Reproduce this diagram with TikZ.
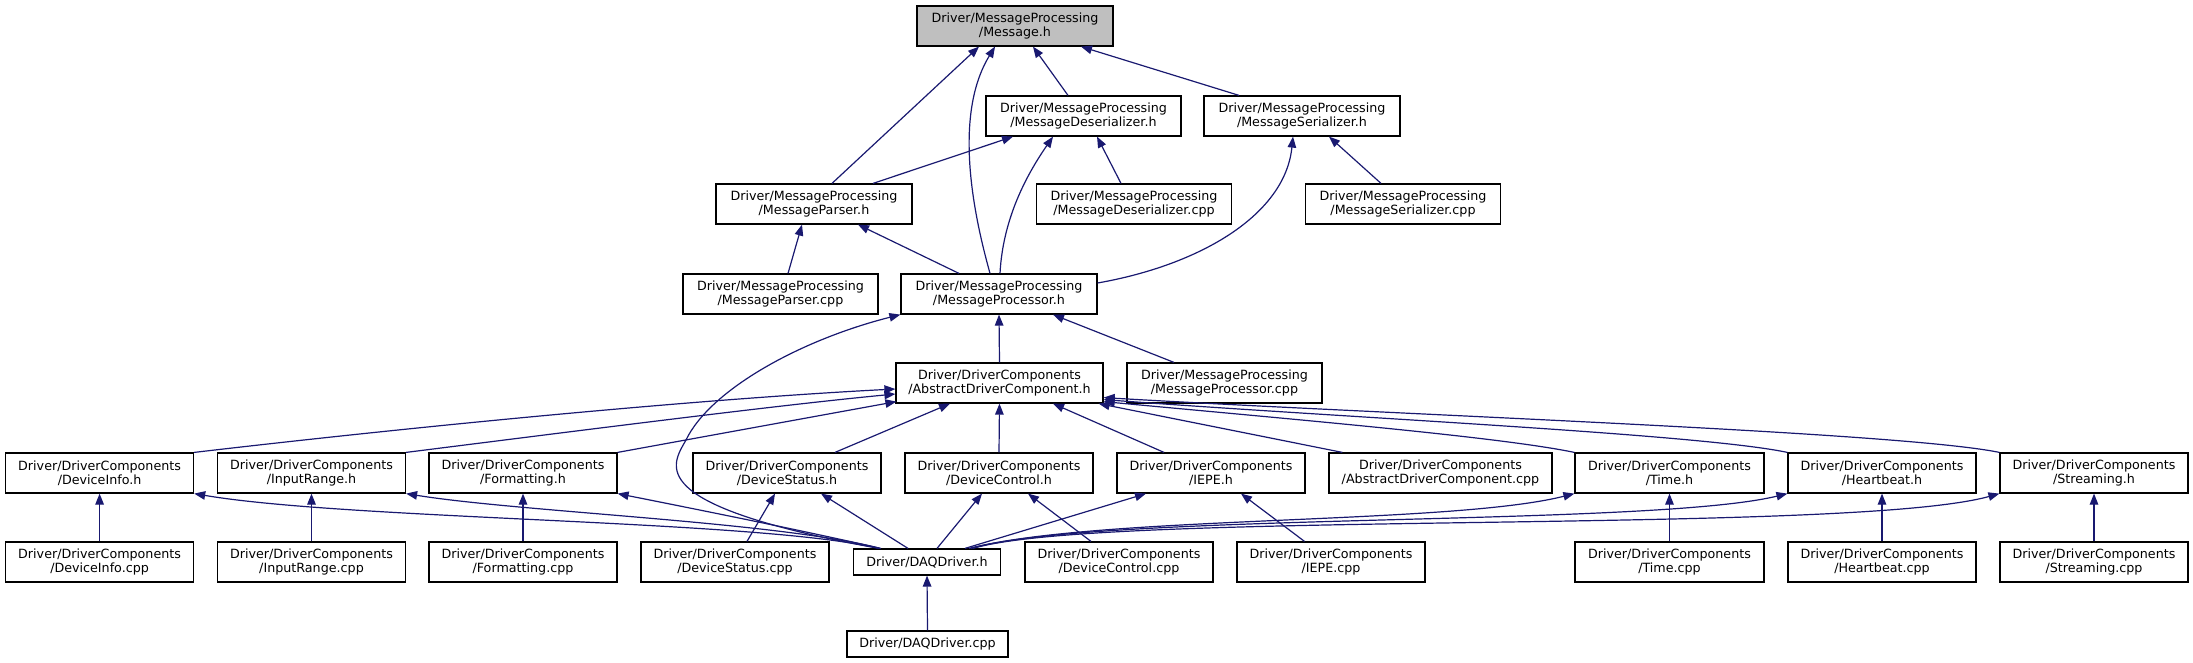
\documentclass[tikz,border=0pt]{standalone}
\usepackage{fontspec}
\setmainfont{DejaVu Sans}
\usetikzlibrary{arrows.meta}
\definecolor{edgeblue}{HTML}{191970}
\definecolor{rootgray}{HTML}{BFBFBF}
\begin{document}
\begin{tikzpicture}[x=1pt,y=-1pt,
  box/.style={draw=black,line width=1.2pt,fill=white,inner sep=0pt,minimum height=40pt,align=center,font=\fontsize{12.7}{14.2}\selectfont},
  onebox/.style={box,minimum height=26pt},
  edge/.style={draw=edgeblue,line width=1.2pt,-{Triangle[length=11pt,width=8.5pt]}}]
\path[use as bounding box] (0,0) rectangle (2193,663);
% row 1
\node[box,fill=rootgray,minimum width=196pt] (msg) at (1015,26) {Driver/MessageProcessing\\/Message.h};
% row 2
\node[box,minimum width=195pt] (deser) at (1083.5,116) {Driver/MessageProcessing\\/MessageDeserializer.h};
\node[box,minimum width=196pt] (ser) at (1302,116) {Driver/MessageProcessing\\/MessageSerializer.h};
% row 3
\node[box,minimum width=196pt] (parser) at (814,204) {Driver/MessageProcessing\\/MessageParser.h};
\node[box,minimum width=195pt] (desercpp) at (1134,204) {Driver/MessageProcessing\\/MessageDeserializer.cpp};
\node[box,minimum width=195pt] (sercpp) at (1403,204) {Driver/MessageProcessing\\/MessageSerializer.cpp};
% row 4
\node[box,minimum width=195pt] (parsercpp) at (780.5,294) {Driver/MessageProcessing\\/MessageParser.cpp};
\node[box,minimum width=196pt] (proc) at (999,294) {Driver/MessageProcessing\\/MessageProcessor.h};
% row 5
\node[box,minimum width=207pt] (abs) at (999.5,383) {Driver/DriverComponents\\/AbstractDriverComponent.h};
\node[box,minimum width=195pt] (proccpp) at (1224.5,383) {Driver/MessageProcessing\\/MessageProcessor.cpp};
% row 6
\node[box,minimum width=188pt] (devinfo) at (99.6,473) {Driver/DriverComponents\\/DeviceInfo.h};
\node[box,minimum width=188pt] (inrange) at (311.5,473) {Driver/DriverComponents\\/InputRange.h};
\node[box,minimum width=188pt] (fmt) at (523,473) {Driver/DriverComponents\\/Formatting.h};
\node[box,minimum width=188pt] (devstat) at (787,473) {Driver/DriverComponents\\/DeviceStatus.h};
\node[box,minimum width=188pt] (devctl) at (999,473) {Driver/DriverComponents\\/DeviceControl.h};
\node[box,minimum width=188pt] (iepe) at (1211,473) {Driver/DriverComponents\\/IEPE.h};
\node[box,minimum width=223pt] (abscpp) at (1440.5,473) {Driver/DriverComponents\\/AbstractDriverComponent.cpp};
\node[box,minimum width=189pt] (time) at (1669.5,473) {Driver/DriverComponents\\/Time.h};
\node[box,minimum width=188pt] (hb) at (1882,473) {Driver/DriverComponents\\/Heartbeat.h};
\node[box,minimum width=188pt] (stream) at (2094,473) {Driver/DriverComponents\\/Streaming.h};
% row 7
\node[box,minimum width=188pt] (devinfocpp) at (99.6,562) {Driver/DriverComponents\\/DeviceInfo.cpp};
\node[box,minimum width=188pt] (inrangecpp) at (311.5,562) {Driver/DriverComponents\\/InputRange.cpp};
\node[box,minimum width=188pt] (fmtcpp) at (523,562) {Driver/DriverComponents\\/Formatting.cpp};
\node[box,minimum width=188pt] (devstatcpp) at (735,562) {Driver/DriverComponents\\/DeviceStatus.cpp};
\node[onebox,minimum width=147pt] (daq) at (927,562) {Driver/DAQDriver.h};
\node[box,minimum width=188pt] (devctlcpp) at (1119,562) {Driver/DriverComponents\\/DeviceControl.cpp};
\node[box,minimum width=188pt] (iepecpp) at (1331,562) {Driver/DriverComponents\\/IEPE.cpp};
\node[box,minimum width=189pt] (timecpp) at (1669.5,562) {Driver/DriverComponents\\/Time.cpp};
\node[box,minimum width=188pt] (hbcpp) at (1882,562) {Driver/DriverComponents\\/Heartbeat.cpp};
\node[box,minimum width=188pt] (streamcpp) at (2094,562) {Driver/DriverComponents\\/Streaming.cpp};
% row 8
\node[onebox,minimum width=161pt] (daqcpp) at (927.5,644) {Driver/DAQDriver.cpp};

% edges into Message.h
\draw[edge] ([xshift=18pt]parser.north) -- ([xshift=-36pt]msg.south);
\draw[edge] ([xshift=-9pt]proc.north) .. controls (978,230) and (950,120) .. ([xshift=-20pt]msg.south);
\draw[edge] ([xshift=-15.5pt]deser.north) -- ([xshift=18pt]msg.south);
\draw[edge] ([xshift=-63pt]ser.north) -- ([xshift=66pt]msg.south);
% into Deserializer.h
\draw[edge] ([xshift=59pt]parser.north) -- ([xshift=-70.5pt]deser.south);
\draw[edge] ([xshift=1pt]proc.north) .. controls (1003,215) and (1030,170) .. ([xshift=-30.5pt]deser.south);
\draw[edge] ([xshift=-13pt]desercpp.north) -- ([xshift=13.5pt]deser.south);
% into Serializer.h
\draw[edge] ([yshift=11pt]proc.east) .. controls (1200,265) and (1285,215) .. ([xshift=-9pt]ser.south);
\draw[edge] ([xshift=-22pt]sercpp.north) -- ([xshift=27pt]ser.south);
% into Parser.h
\draw[edge] ([xshift=7.5pt]parsercpp.north) -- ([xshift=-12pt]parser.south);
\draw[edge] ([xshift=-40pt]proc.north) -- ([xshift=44pt]parser.south);
% into Processor.h
\draw[edge] (abs.north) -- (proc.south);
\draw[edge] ([xshift=-50.5pt]proccpp.north) -- ([xshift=54pt]proc.south);
\draw[edge] ([xshift=26pt]daq.north west) .. controls (640,505) and (672,465) .. (686,440) .. controls (710,390) and (800,340) .. (proc.south west);
% into AbstractDriverComponent.h
\draw[edge] (devinfo.north east) .. controls (420,426) and (700,399) .. ([yshift=-6pt]abs.west);
\draw[edge] (inrange.north east) .. controls (600,428) and (780,405) .. ([yshift=-11pt]abs.west);
\draw[edge] (fmt.north east) -- ([xshift=1pt,yshift=2pt]abs.south west);
\draw[edge] ([xshift=48pt]devstat.north) -- ([xshift=-49.5pt]abs.south);
\draw[edge] (devctl.north) -- (abs.south);
\draw[edge] ([xshift=-47pt]iepe.north) -- ([xshift=53.5pt]abs.south);
\draw[edge] ([xshift=14pt]abscpp.north west) -- ([xshift=-5pt]abs.south east);
\draw[edge] (time.north west) .. controls (1500,437) and (1300,420) .. ([yshift=2pt]abs.south east);
\draw[edge] (hb.north west) .. controls (1700,434) and (1350,418) .. ([yshift=4pt]abs.south east);
\draw[edge] (stream.north west) .. controls (1900,432) and (1400,415) .. ([yshift=6pt]abs.south east);
% DAQDriver.h into row 6
\draw[edge] ([xshift=26pt]daq.north west) .. controls (760,520) and (350,520) .. (devinfo.south east);
\draw[edge] ([xshift=27pt]daq.north west) .. controls (780,522) and (520,512) .. (inrange.south east);
\draw[edge] ([xshift=28pt]daq.north west) .. controls (800,530) and (700,510) .. (fmt.south east);
\draw[edge] ([xshift=-19pt]daq.north) -- ([xshift=34pt]devstat.south);
\draw[edge] ([xshift=10pt]daq.north) -- ([xshift=-17pt]devctl.south);
\draw[edge] ([xshift=38pt]daq.north) -- ([xshift=-65pt]iepe.south);
\draw[edge] ([xshift=42pt]daq.north) .. controls (1100,515) and (1450,525) .. (time.south west);
\draw[edge] ([xshift=44pt]daq.north) .. controls (1100,512) and (1650,527) .. (hb.south west);
\draw[edge] ([xshift=46pt]daq.north) .. controls (1100,510) and (1850,535) .. (stream.south west);
% cpp files into row 6
\draw[edge] (devinfocpp.north) -- (devinfo.south);
\draw[edge] (inrangecpp.north) -- (inrange.south);
\draw[edge] (fmtcpp.north) -- (fmt.south);
\draw[edge] ([xshift=12pt]devstatcpp.north) -- ([xshift=-12pt]devstat.south);
\draw[edge] ([xshift=-28pt]devctlcpp.north) -- ([xshift=29pt]devctl.south);
\draw[edge] ([xshift=-26.5pt]iepecpp.north) -- ([xshift=30pt]iepe.south);
\draw[edge] (timecpp.north) -- (time.south);
\draw[edge] (hbcpp.north) -- (hb.south);
\draw[edge] (streamcpp.north) -- (stream.south);
% DAQDriver.cpp
\draw[edge] (daqcpp.north) -- (daq.south);
\end{tikzpicture}
\end{document}
